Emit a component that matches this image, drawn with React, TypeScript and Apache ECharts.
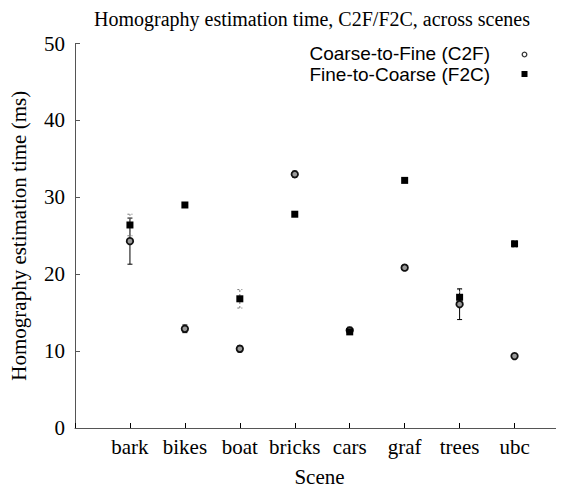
import React, { useEffect, useRef } from "react";
import * as echarts from "echarts";

const scenes = ["bark", "bikes", "boat", "bricks", "cars", "graf", "trees", "ubc"];
const c2fValues = [24.3, 12.9, 10.3, 33.0, 12.7, 20.85, 16.1, 9.35];
const c2fErrors = [3.0, 0.5, 0.4, 0.4, 0.4, 0.2, 2.0, 0.2];
const f2cValues = [26.4, 29.0, 16.8, 27.8, 12.5, 32.2, 17.0, 23.95];
const f2cErrors = [1.4, 0.2, 1.2, 0.3, 0.3, 0.2, 1.0, 0.4];
const yTicks = [0, 10, 20, 30, 40, 50];

const SERIF = "'Liberation Serif', 'Times New Roman', serif";
const SANS = "'Liberation Sans', Arial, sans-serif";

function errorSeries(values: number[], errors: number[], color: string, dashed: boolean) {
  return {
    type: "custom",
    silent: true,
    data: values.map((v, i) => [i + 1, v - errors[i], v + errors[i]]),
    renderItem: (params: any, api: any) => {
      const x = api.value(0);
      const lo = api.coord([x, api.value(1)]);
      const hi = api.coord([x, api.value(2)]);
      const cap = 2.5;
      const style = { stroke: color, lineWidth: 1, lineDash: dashed ? [2, 2] : null };
      return {
        type: "group",
        children: [
          { type: "line", shape: { x1: lo[0], y1: lo[1], x2: hi[0], y2: hi[1] }, style },
          { type: "line", shape: { x1: lo[0] - cap, y1: lo[1], x2: lo[0] + cap, y2: lo[1] }, style },
          { type: "line", shape: { x1: hi[0] - cap, y1: hi[1], x2: hi[0] + cap, y2: hi[1] }, style },
        ],
      };
    },
    z: 1,
  };
}

export default function App() {
  const ref = useRef<HTMLDivElement>(null);
  useEffect(() => {
    if (!ref.current) return;
    const chart = echarts.init(ref.current, null, { renderer: "svg" });
    const axisColor = "#555";
    chart.setOption({
      animation: false,
      title: {
        text: "Homography estimation time, C2F/F2C, across scenes",
        left: 307,
        top: 4,
        textAlign: "center",
        textStyle: { fontFamily: SERIF, fontSize: 20, fontWeight: "normal", color: "#000" },
      },
      grid: { left: 68, right: 0, top: 43.5, bottom: 54.5, containLabel: false },
      xAxis: {
        type: "value",
        min: 0,
        max: 8.9,
        interval: 1,
        name: "Scene",
        nameLocation: "middle",
        nameGap: 38,
        nameTextStyle: { fontFamily: SERIF, fontSize: 21, color: "#000" },
        axisLine: { show: true, onZero: false, lineStyle: { color: axisColor, width: 1 } },
        axisTick: { show: true, inside: true, length: 5, lineStyle: { color: "#000" } },
        splitLine: { show: false },
        axisLabel: {
          fontFamily: SERIF,
          fontSize: 21,
          color: "#000",
          margin: 8,
          showMaxLabel: false,
          formatter: (v: number) => (v >= 1 && v <= scenes.length ? scenes[v - 1] : ""),
        },
      },
      yAxis: {
        type: "value",
        min: yTicks[0],
        max: yTicks[yTicks.length - 1],
        interval: 10,
        name: "Homography estimation time (ms)",
        nameLocation: "middle",
        nameGap: 46,
        nameTextStyle: { fontFamily: SERIF, fontSize: 21, color: "#000" },
        axisLine: { show: true, lineStyle: { color: axisColor, width: 1 } },
        axisTick: { show: true, inside: true, length: 5, lineStyle: { color: axisColor } },
        splitLine: { show: false },
        axisLabel: { fontFamily: SERIF, fontSize: 21, color: "#000", margin: 10 },
      },
      graphic: [
        {
          type: "text",
          x: 490,
          y: 53,
          style: {
            text: "Coarse-to-Fine (C2F)",
            fontFamily: SANS,
            fontSize: 19,
            fill: "#000",
            align: "right",
            verticalAlign: "middle",
          },
        },
        {
          type: "text",
          x: 490,
          y: 74.5,
          style: {
            text: "Fine-to-Coarse (F2C)",
            fontFamily: SANS,
            fontSize: 19,
            fill: "#000",
            align: "right",
            verticalAlign: "middle",
          },
        },
        {
          type: "circle",
          shape: { cx: 524.5, cy: 54.5, r: 2.3 },
          style: { fill: "#fff", stroke: "#333", lineWidth: 1.3 },
        },
        {
          type: "rect",
          shape: { x: 521.5, y: 71, width: 6, height: 6 },
          style: { fill: "#000" },
        },
      ],
      series: [
        errorSeries(c2fValues, c2fErrors, "#000", false),
        errorSeries(f2cValues, f2cErrors, "#777", true),
        {
          name: "Coarse-to-Fine (C2F)",
          type: "scatter",
          symbol: "circle",
          symbolSize: 6.5,
          itemStyle: { color: "#999", borderColor: "#111", borderWidth: 1.8, opacity: 1 },
          data: c2fValues.map((v, i) => [i + 1, v]),
          z: 3,
        },
        {
          name: "Fine-to-Coarse (F2C)",
          type: "scatter",
          symbol: "rect",
          symbolSize: 7,
          itemStyle: { color: "#000", opacity: 1 },
          data: f2cValues.map((v, i) => [i + 1, v]),
          z: 4,
        },
      ],
    });
    return () => chart.dispose();
  }, []);
  return <div ref={ref} style={{ width: 564, height: 492, margin: -8 }} />;
}
